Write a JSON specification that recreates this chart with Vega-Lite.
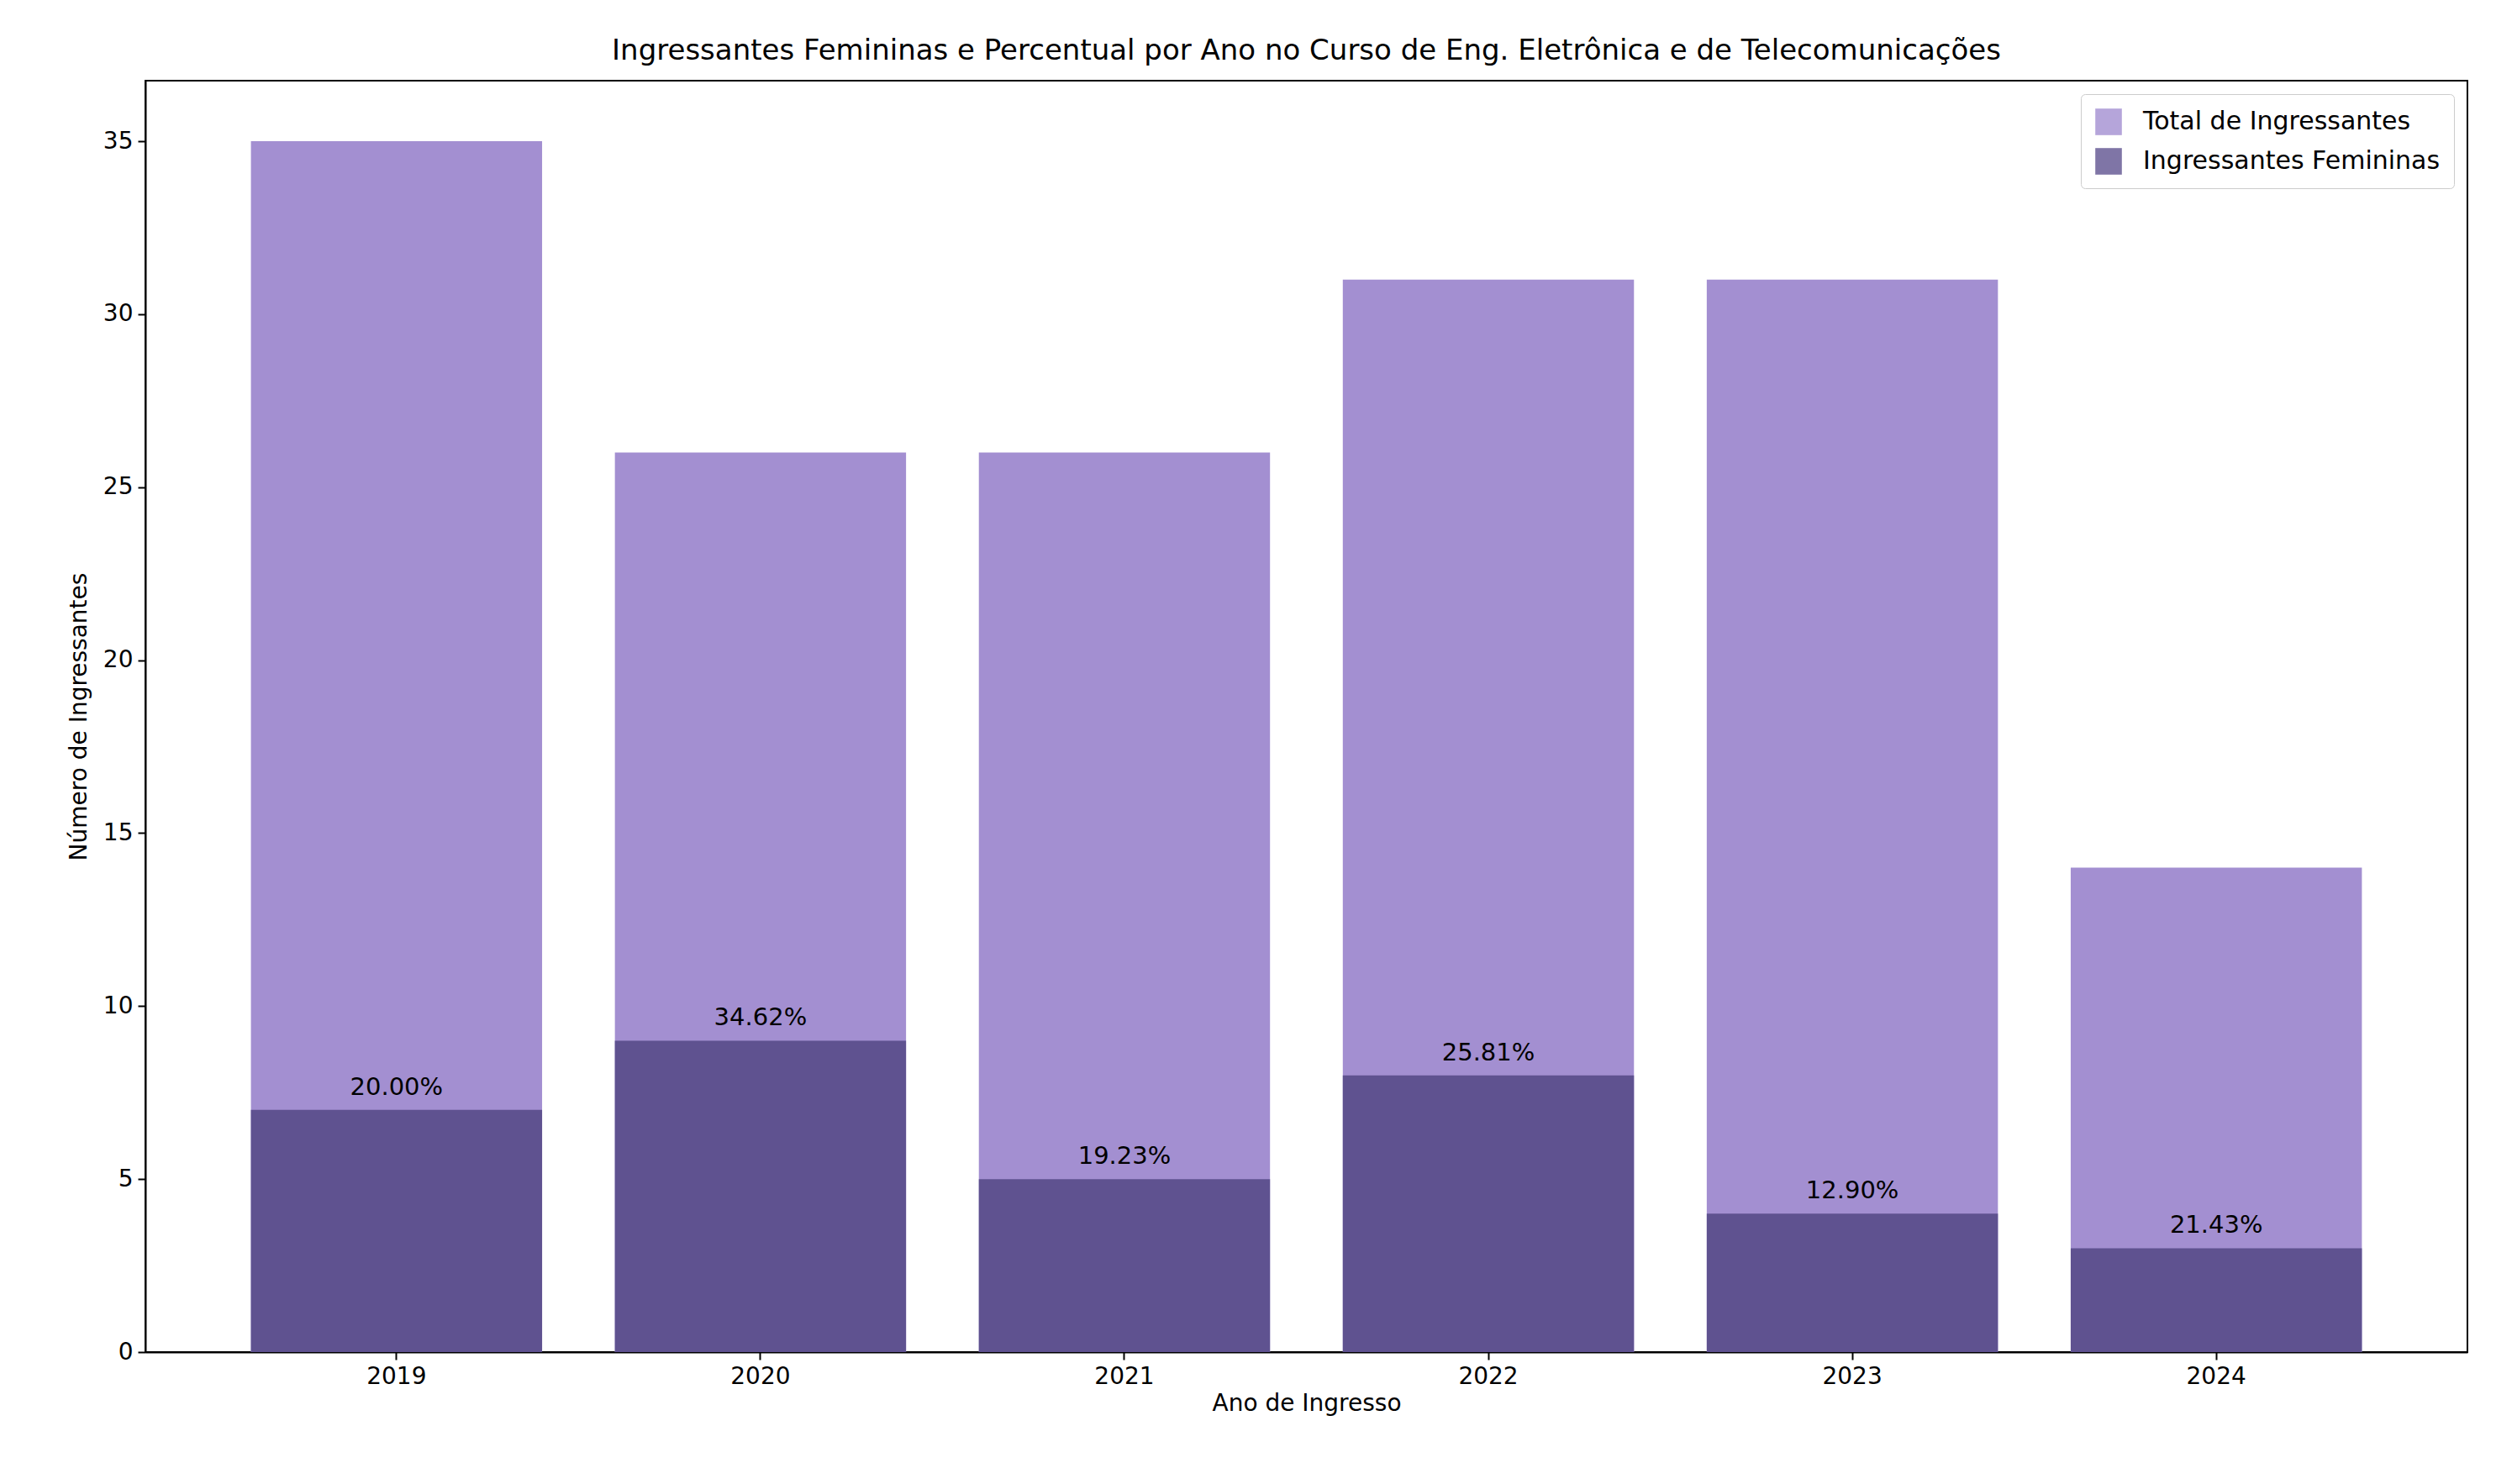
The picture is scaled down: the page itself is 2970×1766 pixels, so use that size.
{
"$schema":"https://vega.github.io/schema/vega-lite/v6.json",
"width":2763,"height":1513,
"padding":{"left":80,"top":44,"right":10,"bottom":10},
"background":"white",
"config":{"font":"DejaVu Sans","view":{"stroke":"black","strokeWidth":2},
"axis":{"grid":false,"domainColor":"black","domainWidth":2,"tickColor":"black","tickWidth":2,"tickSize":9,"labelFontSize":28,"titleFontSize":28,"labelColor":"black","titleColor":"black","titleFontWeight":"normal","labelPadding":6}},
"title":{"text":"Ingressantes Femininas e Percentual por Ano no Curso de Eng. Eletrônica e de Telecomunicações","fontSize":34,"fontWeight":"normal","color":"black","offset":18},
"data":{"values":[
{"ano":"2019","total":35,"fem":7,"pct":"20.00%"},
{"ano":"2020","total":26,"fem":9,"pct":"34.62%"},
{"ano":"2021","total":26,"fem":5,"pct":"19.23%"},
{"ano":"2022","total":31,"fem":8,"pct":"25.81%"},
{"ano":"2023","total":31,"fem":4,"pct":"12.90%"},
{"ano":"2024","total":14,"fem":3,"pct":"21.43%"}]},
"encoding":{"x":{"field":"ano","type":"nominal","title":"Ano de Ingresso","scale":{"paddingInner":0.2,"paddingOuter":0.29},"axis":{"labelAngle":0}}},
"layer":[
{"mark":{"type":"bar","opacity":1},"encoding":{"y":{"field":"total","type":"quantitative","title":"Número de Ingressantes","scale":{"domain":[0,36.75],"nice":false},"axis":{"values":[0,5,10,15,20,25,30,35],"titlePadding":14}},
"color":{"datum":"Total de Ingressantes","type":"nominal","scale":{"domain":["Total de Ingressantes","Ingressantes Femininas"],"range":["#a38fd1","#5f5290"]},
"legend":{"title":null,"orient":"top-right","labelFontSize":30,"labelLimit":0,"symbolType":"square","symbolSize":1000,"symbolOpacity":0.8,"strokeColor":"#cccccc","fillColor":"white","padding":16,"cornerRadius":5,"rowPadding":14,"labelOffset":24,"labelColor":"black","offset":16}}}},
{"mark":{"type":"bar"},"encoding":{"y":{"field":"fem","type":"quantitative"},"color":{"datum":"Ingressantes Femininas","type":"nominal"}}},
{"mark":{"type":"text","fontSize":29,"baseline":"bottom","dy":-12,"color":"black"},"encoding":{"y":{"field":"fem","type":"quantitative"},"text":{"field":"pct"}}}
]}
